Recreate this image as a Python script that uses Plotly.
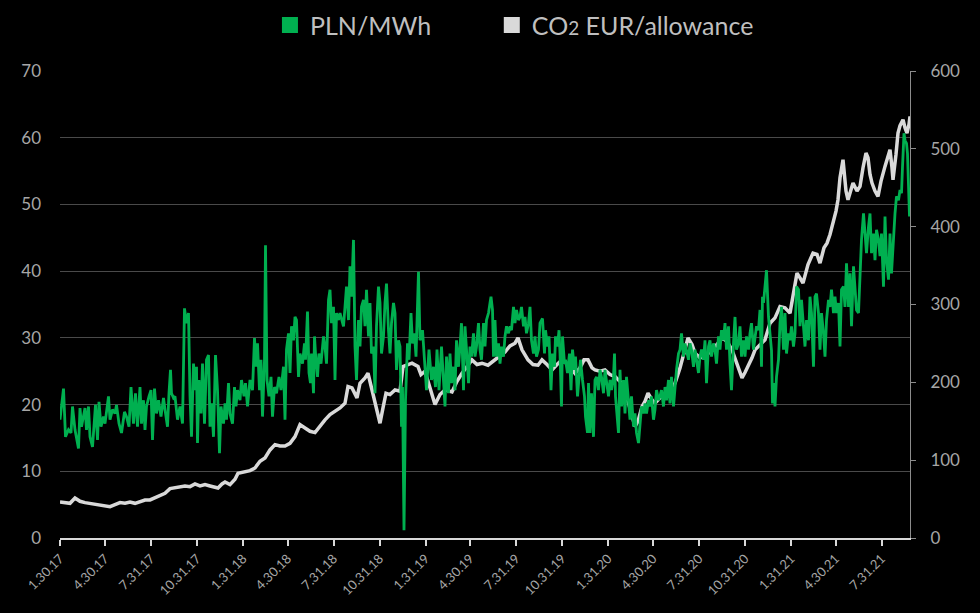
import pandas as pd
import plotly.graph_objects as go

START = "2017-01-30"

# PLN/MWh (right axis) – days since start, values
pln_days = [0,7,11,17,22,25,30,37,40,43,50,53,57,60,65,69,71,75,78,82,87,90,97,100,105,110,113,118,123,129,
            133,138,142,147,151,155,160,163,167,170,173,178,182,185,189,193,197,202,207,210,215,218,221,223,227,
            230,235,240,245,249,253,257,260,263,267,270,273,275,278,282,285,289,293,297,300,303,307,311,315,319,322,327,330,333,337,
            340,345,349,352,355,360,363,368,371,375,380,385,389,392,395,399,402,405,409,411,414,418,422,425,429,433,438,442,447,450,
            453,457,460,463,467,470,
            473,477,480,485,489,491,495,498,501,503,507,509,511,515,518,522,527,530,533,537,540,543,547,550,553,557,560,563,567,570,
            573,577,580,583,587,590,593,597,600,603,607,610,613,617,620,623,627,630,633,637,640,643,647,650,653,657,660,663,667,670,
            673,677,680,683,685,688,691,695,698,702,705,709,712,
            717,720,725,729,733,738,743,747,751,754,758,763,767,770,773,777,780,783,787,790,793,797,800,803,807,810,813,817,820,823,
            827,830,833,837,840,843,847,850,853,857,860,862,865,867,870,873,877,880,883,887,890,893,897,900,903,907,910,913,917,920,
            923,927,930,933,937,940,943,947,950,953,957,
            960,965,969,971,975,978,982,985,989,991,995,998,1000,1003,1005,1009,1011,1015,1019,1022,1025,1029,1031,1035,1038,1041,1045,1049,1051,1055,
            1057,1060,1063,1067,1070,1073,1077,1080,1083,1087,1090,1093,1097,1100,1103,1107,1109,1111,1113,1117,1120,1123,1127,1130,1133,1137,1140,1143,1147,1150,
            1153,1157,1160,1163,1167,1170,1173,1177,1180,1183,1187,1190,1193,1197,1200,1203,1207,1210,
            1213,1217,1220,1223,1227,1230,1233,1237,1240,1243,1247,1250,1253,1257,1260,1263,1267,1270,1273,1277,1280,1283,1287,1290,1293,1297,1300,1303,1307,1310,
            1313,1317,1320,1323,1327,1330,1333,1337,1340,1343,1347,1350,1353,1357,1360,1363,1367,1370,1373,1377,1380,1383,1387,1390,1393,1397,1400,1403,1405,1407,
            1410,1413,1417,1420,1423,1425,1428,1430,1433,1437,1440,1443,
            1447,1450,1453,1457,1460,1463,1467,1470,1473,1477,1480,1483,1487,1490,1493,1497,1500,1503,1507,1510,1513,1517,1520,1523,1527,1530,1533,1537,1540,1543,
            1547,1550,1553,1557,1560,1563,1567,1570,1573,1577,1580,1583,1587,1590,1593,1597,1600,1603,1607,1610,1613,1617,1620,1623,1627,1630,1633,1637,1640,1643,
            1647,1650,1653,1657,1660,1663,1667,1670,1673,1677,1680,1683,1685,1688,1690,1693,1695,1699]
pln_values = [152,192,130,139,135,169,139,115,167,143,167,139,169,130,117,165,171,126,175,143,156,147,182,152,165,160,171,147,135,162,
              156,143,194,147,186,143,194,147,177,139,169,182,190,126,192,160,177,156,180,165,143,186,216,186,180,
              182,152,169,147,295,276,289,182,130,224,190,220,122,203,160,224,147,229,235,143,173,130,235,190,109,169,147,173,152,199,
              160,147,194,169,190,177,203,182,199,169,203,190,257,220,250,190,229,156,229,376,203,182,207,156,194,186,207,190,220,152,
              242,263,212,272,254,284,
              280,207,237,224,250,229,291,212,199,237,186,259,237,207,237,224,259,246,224,306,319,276,297,203,289,280,289,280,272,297,
              323,280,349,310,383,246,203,280,246,297,306,272,319,259,302,237,246,186,272,323,302,237,259,302,327,267,237,276,302,289,
              216,254,246,143,194,10,177,250,229,289,250,263,233,
              342,254,267,220,190,242,203,220,194,242,190,246,203,169,233,186,237,199,220,190,254,220,246,276,190,272,242,199,246,233,
              263,233,246,276,242,229,276,246,280,289,302,310,293,233,280,233,250,224,246,233,259,272,263,272,267,297,276,293,280,284,
              297,272,284,263,276,297,254,237,259,233,242,
              276,282,237,267,246,259,190,237,220,259,246,267,237,169,259,224,229,212,237,190,242,216,233,182,207,229,203,182,156,135,
              199,135,186,130,203,207,190,216,207,186,216,203,182,203,190,207,237,182,165,135,216,169,203,160,207,169,152,182,143,160,
              135,122,147,169,160,173,160,177,169,182,152,165,190,177,182,190,169,194,
              177,203,173,207,169,199,216,237,242,263,233,250,242,229,250,242,220,242,229,212,233,242,229,254,199,246,254,233,250,242,
              224,259,242,267,254,276,242,272,224,190,250,284,242,250,272,233,254,233,259,242,263,276,242,259,272,267,293,220,310,302,
              327,344,284,263,241,173,199,169,207,229,276,297,
              242,289,237,263,254,272,246,263,323,319,272,306,263,246,280,254,310,289,220,310,314,289,242,289,263,233,280,306,297,319,
              289,310,289,302,246,319,323,297,353,297,340,272,349,323,293,289,344,383,417,391,366,400,417,366,391,357,396,383,362,391,
              323,413,357,332,391,340,396,417,439,434,447,443,477,520,511,507,494,413]

# CO2 EUR/allowance (left axis) – days since start, values
co2_days = [0,10,20,30,40,50,60,70,80,90,100,110,120,130,140,150,160,170,180,190,
            200,210,220,230,240,250,260,270,280,290,300,310,316,324,330,340,350,356,370,380,
            390,400,410,420,430,440,450,460,470,480,490,500,510,520,530,540,550,560,570,576,
            584,594,600,610,616,624,630,636,640,646,652,660,670,680,686,696,704,716,722,730,
            740,750,760,770,784,794,804,814,824,834,844,856,870,880,890,900,910,916,924,936,
            946,956,964,974,984,994,1004,1016,1030,1040,1048,1056,1064,1070,1080,1090,1100,1110,1120,1130,
            1136,1144,1150,1156,1164,1170,1176,1184,1190,1200,1210,1220,1230,1240,1244,1250,1256,1264,1270,1280,
            1290,1304,1314,1324,1334,1344,1352,1360,1364,1370,1376,1384,1390,1400,1410,1420,1430,1440,1450,1460,
            1468,1474,1480,1486,1496,1506,1514,1520,1528,1534,1540,1546,1552,1556,1560,1566,1572,1576,1582,1586,
            1594,1600,1606,1612,1616,1620,1624,1630,1636,1642,1650,1656,1660,1664,1666,1672,1676,1680,1686,1690,
            1694,1698,1700]
co2_values = [5.4,5.3,5.2,6.0,5.5,5.3,5.2,5.0,4.9,4.8,4.7,5.0,5.3,5.2,5.4,5.2,5.5,5.7,5.7,6.0,
              6.3,6.7,7.4,7.5,7.6,7.8,7.7,8.1,7.8,8.0,7.8,7.6,7.5,8.1,8.4,8.0,8.8,9.7,9.9,10.1,
              10.5,11.5,12.0,13.2,14.0,13.8,13.8,14.2,15.2,17.0,16.5,16.0,15.8,16.8,17.7,18.5,19.0,19.5,20.2,22.7,
              22.5,21.0,23.2,24.0,24.7,22.0,20.5,18.5,17.2,19.5,21.7,21.5,22.2,22.0,25.7,26.0,26.2,25.7,24.5,25.0,
              22.5,20.0,21.5,22.2,21.9,23.5,24.7,25.8,26.7,26.0,26.2,25.9,26.7,27.2,27.9,28.8,29.2,30.0,28.2,26.7,
              26.0,25.9,26.7,26.0,25.2,26.0,26.7,26.0,24.7,25.5,26.7,26.7,25.5,25.2,25.0,25.2,24.5,24.2,23.5,22.7,
              20.5,18.2,16.7,17.5,19.7,20.5,21.7,20.7,20.2,21.0,21.7,22.5,23.2,25.5,26.7,28.5,30.0,29.0,27.7,27.0,
              27.2,28.2,29.0,30.0,29.5,28.2,26.5,24.5,24.0,24.8,25.7,27.0,28.2,29.0,29.7,32.2,33.0,34.7,34.5,33.7,
              37.0,39.7,39.0,38.2,41.0,42.7,42.5,41.2,43.5,44.2,45.5,47.2,49.0,50.7,54.0,56.7,52.0,50.7,52.5,53.2,
              52.0,52.7,55.5,57.7,57.0,54.5,53.2,52.0,51.2,53.5,55.7,57.0,58.2,55.5,53.7,57.5,60.7,61.8,62.7,61.5,
              60.7,62.0,63.2]

tick_dates = ["2017-01-30","2017-04-30","2017-07-31","2017-10-31","2018-01-31","2018-04-30","2018-07-31",
              "2018-10-31","2019-01-31","2019-04-30","2019-07-31","2019-10-31","2020-01-31","2020-04-30",
              "2020-07-31","2020-10-31","2021-01-31","2021-04-30","2021-07-31"]
tick_labels = ["1.30.17","4.30.17","7.31.17","10.31.17","1.31.18","4.30.18","7.31.18","10.31.18",
               "1.31.19","4.30.19","7.31.19","10.31.19","1.31.20","4.30.20","7.31.20","10.31.20",
               "1.31.21","4.30.21","7.31.21"]

GREEN = "#00b050"
LIGHT = "#d9d9d9"
TXT = "#a6a6a6"
FONT = "Lato"

t0 = pd.Timestamp(START)
pln_x = t0 + pd.to_timedelta(pln_days, unit="D")
co2_x = t0 + pd.to_timedelta(co2_days, unit="D")

fig = go.Figure()
fig.add_trace(go.Scatter(x=pln_x, y=pln_values, mode="lines", yaxis="y2",
                         line=dict(color=GREEN, width=2.8), showlegend=False, name="PLN/MWh"))
fig.add_trace(go.Scatter(x=co2_x, y=co2_values, mode="lines", yaxis="y",
                         line=dict(color=LIGHT, width=3.5), showlegend=False, name="CO2 EUR/allowance"))
# legend entries with square symbols (one legend box each)
fig.add_trace(go.Scatter(x=[None], y=[None], mode="markers", name="PLN/MWh", legend="legend",
                         marker=dict(symbol="square", size=20, color=GREEN)))
fig.add_trace(go.Scatter(x=[None], y=[None], mode="markers", legend="legend2",
                         name='CO<span style="font-size:19px">2</span> EUR/allowance',
                         marker=dict(symbol="square", size=20, color=LIGHT)))

legend_style = dict(orientation="h", xanchor="left", y=1.098, yanchor="middle",
                    font=dict(size=25, color="#bfbfbf", family=FONT),
                    itemsizing="trace", bgcolor="rgba(0,0,0,0)")

x_end = t0 + pd.Timedelta(days=1700)
fig.update_layout(
    width=980, height=613,
    paper_bgcolor="black", plot_bgcolor="black",
    margin=dict(l=60, r=70, t=71, b=75, autoexpand=False),
    font=dict(family=FONT, color=TXT),
    showlegend=True,
    legend=dict(x=0.247, **legend_style),
    legend2=dict(x=0.508, **legend_style),
    xaxis=dict(type="date", range=[t0, x_end], tickvals=tick_dates, ticktext=tick_labels,
               tickangle=-45, tickfont=dict(size=13, color=TXT), showgrid=False, zeroline=False,
               showline=True, linecolor="#d9d9d9", linewidth=2, ticks="outside", ticklen=6,
               tickcolor="#d9d9d9", tickwidth=1.5),
    yaxis=dict(range=[0, 70], dtick=10, tickfont=dict(size=17, color=TXT), showgrid=True,
               gridcolor="#4a4a4a", gridwidth=1.3, zeroline=False, showline=False, ticks="",
               ticklabelstandoff=18),
    yaxis2=dict(range=[0, 600], dtick=100, overlaying="y", side="right", showgrid=False,
                zeroline=False, tickfont=dict(size=17, color=TXT), showline=True,
                linecolor="#8c8c8c", linewidth=1, ticks="outside", ticklen=5, tickcolor="#8c8c8c",
                ticklabelstandoff=11),
)

fig.write_html("out.html", config={"displayModeBar": False},
               post_script="document.body.style.margin='0px';")
